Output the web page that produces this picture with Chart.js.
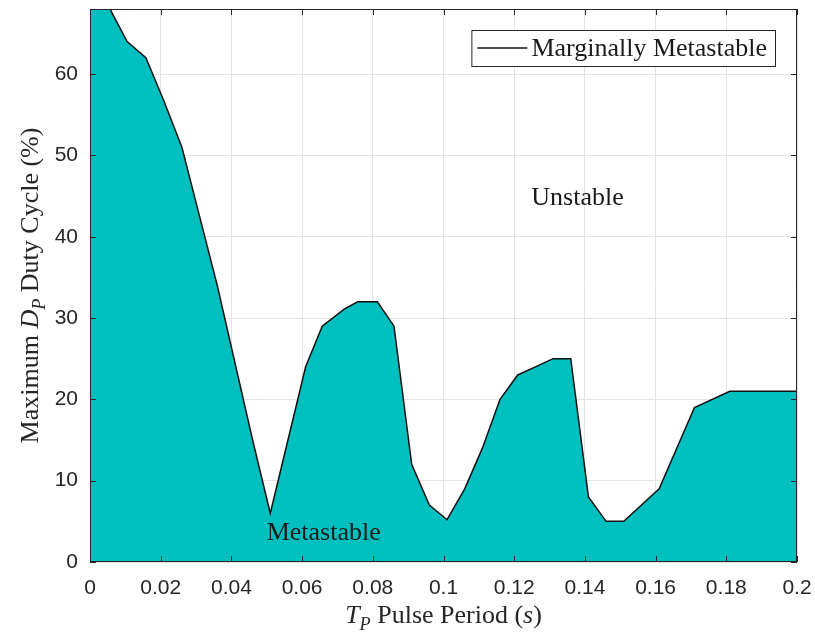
<!DOCTYPE html>
<html>
<head>
<meta charset="utf-8">
<script src="https://cdn.jsdelivr.net/npm/chart.js@4.4.1/dist/chart.umd.min.js"></script>
<style>
  html, body { margin: 0; padding: 0; background: #fff; }
  #wrap { width: 815px; height: 638px; }
</style>
</head>
<body>
<div id="wrap"><canvas id="dutyChart"></canvas></div>
<script>
// pulse period (s) and max duty cycle (%)
var periodS = [0, 0.006, 0.0105, 0.0158, 0.0208, 0.026, 0.031, 0.036, 0.041, 0.046,
               0.051, 0.061, 0.0657, 0.0719, 0.0757, 0.0813, 0.086, 0.091, 0.096, 0.101,
               0.106, 0.111, 0.116, 0.121, 0.126, 0.131, 0.136, 0.141, 0.146, 0.151,
               0.161, 0.171, 0.181, 0.2];
var dutyMax = [80, 67.7, 64, 62, 56.8, 51, 42.5, 34, 24.5, 15,
               6, 24, 29, 31.1, 32, 32, 29, 12, 7, 5.2,
               9, 14, 20, 23, 24, 25, 25, 8, 5, 5,
               9, 19, 21, 21];
var xTicks = [0, 0.02, 0.04, 0.06, 0.08, 0.1, 0.12, 0.14, 0.16, 0.18, 0.2];
var yTicks = [0, 10, 20, 30, 40, 50, 60];
var seriesLabel = 'Marginally Metastable';
var regionLabels = ['Unstable', 'Metastable'];
var regionPos = [[0.1379, 44.7], [0.0661, 3.6]];

var points = periodS.map(function (p, i) { return { x: p, y: dutyMax[i] }; });

var SERIF = '"Liberation Serif", "Times New Roman", serif';
var SANS = '"Liberation Sans", Arial, sans-serif';

// draws text made of plain / italic / subscript pieces
function richWidth(ctx, parts, size) {
    var w = 0;
    parts.forEach(function (p) {
        var s = p.sub ? size * 0.7 : size;
        ctx.font = (p.italic ? 'italic ' : '') + s + 'px ' + SERIF;
        w += ctx.measureText(p.text).width;
    });
    return w;
}
function drawRich(ctx, parts, cx, baseY, size) {
    var x = cx - richWidth(ctx, parts, size) / 2;
    ctx.textAlign = 'left';
    ctx.textBaseline = 'alphabetic';
    parts.forEach(function (p) {
        var s = p.sub ? size * 0.7 : size;
        ctx.font = (p.italic ? 'italic ' : '') + s + 'px ' + SERIF;
        ctx.fillText(p.text, x, baseY + (p.sub ? size * 0.28 : 0));
        x += ctx.measureText(p.text).width;
    });
}

var framePlugin = {
    id: 'framePlugin',
    afterDatasetsDraw: function (chart) {
        var ctx = chart.ctx, a = chart.chartArea;
        var xs = chart.scales.x, ys = chart.scales.y;
        ctx.save();
        // box and inward ticks
        ctx.strokeStyle = '#262626';
        ctx.lineWidth = 1;
        ctx.strokeRect(a.left + 0.5, a.top + 0.5, a.right - a.left - 1, a.bottom - a.top - 1);
        ctx.beginPath();
        xTicks.forEach(function (v) {
            var px = Math.round(xs.getPixelForValue(v)) + 0.5;
            ctx.moveTo(px, a.bottom); ctx.lineTo(px, a.bottom - 6);
            ctx.moveTo(px, a.top); ctx.lineTo(px, a.top + 6);
        });
        yTicks.forEach(function (v) {
            var py = Math.round(ys.getPixelForValue(v)) + 0.5;
            ctx.moveTo(a.left, py); ctx.lineTo(a.left + 6, py);
            ctx.moveTo(a.right, py); ctx.lineTo(a.right - 6, py);
        });
        ctx.stroke();

        // region labels
        ctx.fillStyle = '#1a1a1a';
        ctx.font = '26px ' + SERIF;
        ctx.textAlign = 'center';
        ctx.textBaseline = 'middle';
        regionLabels.forEach(function (t, i) {
            ctx.fillText(t, xs.getPixelForValue(regionPos[i][0]), ys.getPixelForValue(regionPos[i][1]));
        });

        // legend box, top right inside the axes
        var ds = chart.data.datasets[0];
        ctx.font = '26px ' + SERIF;
        var tw = ctx.measureText(ds.label).width;
        var bw = 6 + 50 + 4 + tw + 8, bh = 36;
        var bx = a.right - 22 - bw, by = a.top + 21;
        ctx.fillStyle = '#fff';
        ctx.fillRect(bx, by, bw, bh);
        ctx.strokeStyle = '#262626';
        ctx.strokeRect(bx + 0.5, by + 0.5, bw, bh);
        ctx.strokeStyle = ds.borderColor;
        ctx.lineWidth = 1.5;
        ctx.beginPath();
        ctx.moveTo(bx + 6, by + bh / 2); ctx.lineTo(bx + 56, by + bh / 2);
        ctx.stroke();
        ctx.fillStyle = '#1a1a1a';
        ctx.textAlign = 'left';
        ctx.fillText(ds.label, bx + 60, by + bh / 2 + 1);

        // axis titles
        ctx.fillStyle = '#262626';
        drawRich(ctx, [{ text: 'T', italic: true }, { text: 'P', italic: true, sub: true },
                       { text: ' Pulse Period (' }, { text: 's', italic: true }, { text: ')' }],
                 (a.left + a.right) / 2, 623, 26);
        ctx.translate(38, (a.top + a.bottom) / 2);
        ctx.rotate(-Math.PI / 2);
        drawRich(ctx, [{ text: 'Maximum ' }, { text: 'D', italic: true }, { text: 'P', italic: true, sub: true },
                       { text: ' Duty Cycle (%)' }],
                 0, 0, 26);
        ctx.restore();
    }
};

var dutyChart = new Chart(document.getElementById('dutyChart'), {
    type: 'line',
    data: {
        datasets: [{
            label: seriesLabel,
            data: points,
            borderColor: '#111111',
            borderWidth: 1.5,
            backgroundColor: '#00bfbf',
            fill: 'origin',
            pointRadius: 0,
            tension: 0
        }]
    },
    options: {
        responsive: true,
        maintainAspectRatio: false,
        animation: false,
        layout: { padding: { top: 9, right: 18, left: 0, bottom: 0 } },
        plugins: {
            legend: { display: false },
            tooltip: { enabled: false }
        },
        scales: {
            x: {
                type: 'linear',
                min: 0,
                max: 0.2,
                afterFit: function (s) {
                    s.height = 76;
                    s.paddingLeft = 0;
                    s.paddingRight = 0;
                },
                afterBuildTicks: function (s) { s.ticks = xTicks.map(function (v) { return { value: v }; }); },
                grid: { color: '#e3e3e3', drawTicks: false },
                border: { display: false },
                ticks: {
                    padding: 14,
                    color: '#262626',
                    font: { family: SANS, size: 21 },
                    maxRotation: 0,
                    callback: function (v) { return String(Number(v.toFixed(2))); }
                }
            },
            y: {
                min: 0,
                max: 68,
                afterFit: function (s) {
                    s.width = 90;
                    s.paddingTop = 0;
                    s.paddingBottom = 0;
                },
                afterBuildTicks: function (s) { s.ticks = yTicks.map(function (v) { return { value: v }; }); },
                grid: { color: '#e3e3e3', drawTicks: false },
                border: { display: false },
                ticks: {
                    padding: 12,
                    color: '#262626',
                    font: { family: SANS, size: 21 }
                }
            }
        }
    },
    plugins: [framePlugin]
});
</script>
</body>
</html>
